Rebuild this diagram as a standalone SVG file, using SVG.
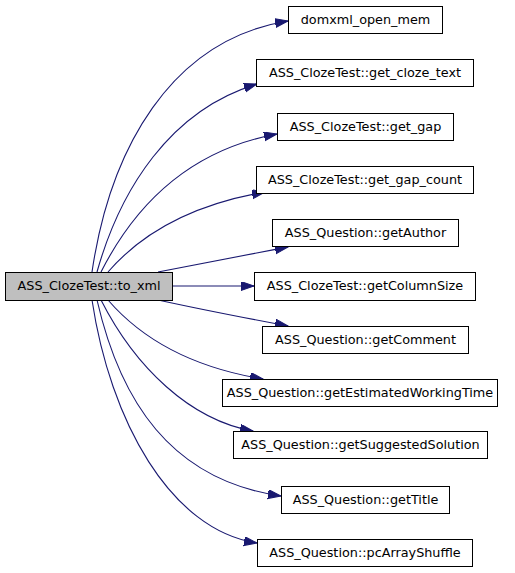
<svg xmlns="http://www.w3.org/2000/svg" width="515" height="573" viewBox="0 0 515 573">
<defs>
<style>
.node rect{fill:#ffffff;stroke:#000000;stroke-width:1}
#root rect{fill:#bfbfbf}
.node text{font-family:"DejaVu Sans",Verdana,sans-serif;font-size:12.8px;fill:#000000;text-anchor:middle}
.edge{fill:none;stroke:#191970;stroke-width:1.1;marker-end:url(#arrow)}
</style>
<marker id="arrow" markerWidth="14" markerHeight="10" refX="13" refY="4.5" orient="auto" markerUnits="userSpaceOnUse">
<path d="M0,0 L13,4.5 L0,9 Z" fill="#191970" stroke="#191970" stroke-width="1"/>
</marker>
</defs>
<rect width="515" height="573" fill="#ffffff"/>
<g id="connectors">
<path class="edge" d="M92,272 C110,150 170,40 288,21"/>
<path class="edge" d="M97,272 C120,190 170,110 257,84"/>
<path class="edge" d="M101,272 C135,205 190,150 277,134"/>
<path class="edge" d="M108,272 C140,235 190,205 265,192"/>
<path class="edge" d="M158,272 C190,266 240,256 288,247"/>
<path class="edge" d="M173,286 L254,286"/>
<path class="edge" d="M158,300 C190,307 240,317 288,326"/>
<path class="edge" d="M108,300 C140,337 190,367 263,379"/>
<path class="edge" d="M101,300 C135,367 190,420 253,431"/>
<path class="edge" d="M97,300 C120,400 170,480 281,496"/>
<path class="edge" d="M92,300 C110,420 170,530 257,543"/>
</g>
<g id="root" class="node"><rect x="5.5" y="272.5" width="167" height="28"/><text x="89" y="290">ASS_ClozeTest::to_xml</text></g>
<g id="n_domxml_open_mem" class="node"><rect x="288.5" y="6.5" width="154" height="27"/><text x="365.5" y="24">domxml_open_mem</text></g>
<g id="n_get_cloze_text" class="node"><rect x="256.5" y="59.5" width="217" height="27"/><text x="365" y="77">ASS_ClozeTest::get_cloze_text</text></g>
<g id="n_get_gap" class="node"><rect x="277.5" y="113.5" width="176" height="27"/><text x="365.5" y="131">ASS_ClozeTest::get_gap</text></g>
<g id="n_get_gap_count" class="node"><rect x="256.5" y="166.5" width="217" height="27"/><text x="365" y="184">ASS_ClozeTest::get_gap_count</text></g>
<g id="n_getAuthor" class="node"><rect x="272.5" y="219.5" width="186" height="27"/><text x="365.5" y="237">ASS_Question::getAuthor</text></g>
<g id="n_getColumnSize" class="node"><rect x="254.5" y="272.5" width="221" height="28"/><text x="365" y="290">ASS_ClozeTest::getColumnSize</text></g>
<g id="n_getComment" class="node"><rect x="262.5" y="326.5" width="206" height="27"/><text x="365.5" y="344">ASS_Question::getComment</text></g>
<g id="n_getEstimatedWorkingTime" class="node"><rect x="222.5" y="379.5" width="275" height="27"/><text x="360" y="397">ASS_Question::getEstimatedWorkingTime</text></g>
<g id="n_getSuggestedSolution" class="node"><rect x="233.5" y="431.5" width="254" height="27"/><text x="360.5" y="449">ASS_Question::getSuggestedSolution</text></g>
<g id="n_getTitle" class="node"><rect x="281.5" y="486.5" width="168" height="27"/><text x="365.5" y="504">ASS_Question::getTitle</text></g>
<g id="n_pcArrayShuffle" class="node"><rect x="257.5" y="539.5" width="215" height="27"/><text x="365" y="557">ASS_Question::pcArrayShuffle</text></g>
</svg>
